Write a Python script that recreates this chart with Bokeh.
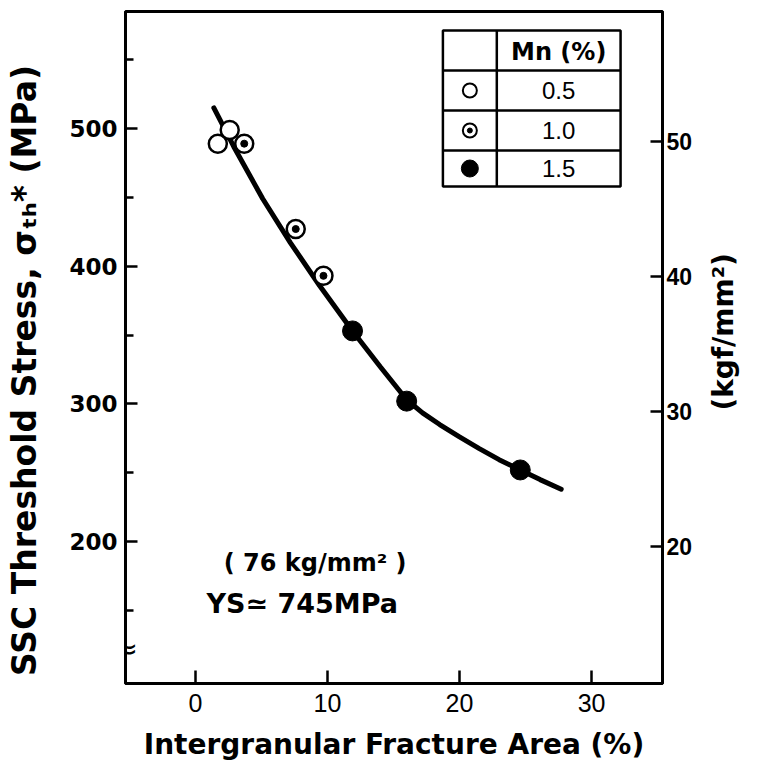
from bokeh.plotting import figure
from bokeh.models import Label, LinearAxis, Range1d, FixedTicker
from bokeh.embed import file_html
from bokeh.resources import INLINE
import math

# ---------------- data ----------------
mn05_x = [1.7, 2.6]
mn05_y = [489, 499]
mn10_x = [3.7, 7.6, 9.7]
mn10_y = [489, 427, 393]
mn15_x = [11.9, 16.0, 24.6]
mn15_y = [353, 302, 252]

curve_x = [1.4, 2.9, 5.1, 7.2, 9.4, 11.9, 14.0, 16.0, 17.2, 18.5, 20.0, 21.5, 23.0, 24.6, 26.1, 27.7]
curve_y = [515, 487, 449, 417, 386, 353, 327, 303, 293.5, 285, 276, 267.5, 259.5, 252, 245, 238]

x_ticks = [0, 10, 20, 30]
y_ticks = [200, 300, 400, 500]
y_minor = [150, 250, 350, 450, 550]
kgf_ticks = [20, 30, 40, 50]
MPA_PER_KGF = 9.80665

legend_rows = ["0.5", "1.0", "1.5"]

# ---------------- layout ----------------
W, H = 759, 783
FRAME_L, FRAME_R, FRAME_T, FRAME_B = 125, 663, 11, 683
X_START, X_END = -5.29, 35.37
Y_START, Y_END = 96.9, 585.0


def dx(px):
    return X_START + (px - FRAME_L) / (FRAME_R - FRAME_L) * (X_END - X_START)


def dy(py):
    return Y_END - (py - FRAME_T) / (FRAME_B - FRAME_T) * (Y_END - Y_START)


p = figure(width=W, height=H, output_backend="svg", toolbar_location=None,
           x_range=Range1d(X_START, X_END), y_range=Range1d(Y_START, Y_END),
           min_border_left=FRAME_L, min_border_right=W - FRAME_R,
           min_border_top=FRAME_T, min_border_bottom=H - FRAME_B)
p.background_fill_color = "white"
p.border_fill_color = "white"
p.grid.visible = False
p.outline_line_color = "black"
p.outline_line_width = 3

p.extra_y_ranges = {"kgf": Range1d(Y_START / MPA_PER_KGF, Y_END / MPA_PER_KGF)}

# bottom axis
xa = p.xaxis[0]
xa.ticker = FixedTicker(ticks=x_ticks)
xa.major_tick_in = 13
xa.major_tick_out = 0
xa.minor_tick_line_color = None
xa.axis_line_width = 3
xa.major_tick_line_width = 2.5
xa.major_label_standoff = 10
xa.major_label_text_font = "Liberation Sans"
xa.major_label_text_font_size = "25px"
xa.major_label_text_color = "black"
xa.axis_label = "Intergranular Fracture Area (%)"
xa.axis_label_text_font = "DejaVu Sans"
xa.axis_label_text_font_style = "bold"
xa.axis_label_text_font_size = "28px"
xa.axis_label_text_color = "black"
xa.axis_label_standoff = 13

# left axis
ya = p.yaxis[0]
ya.ticker = FixedTicker(ticks=y_ticks, minor_ticks=y_minor)
ya.major_tick_in = 12
ya.major_tick_out = 0
ya.minor_tick_in = 8
ya.minor_tick_out = 0
ya.axis_line_width = 3
ya.major_tick_line_width = 2.5
ya.minor_tick_line_width = 2.5
ya.major_label_standoff = 8
ya.major_label_text_font = "DejaVu Sans"
ya.major_label_text_font_style = "bold"
ya.major_label_text_font_size = "23px"
ya.major_label_text_color = "black"
ya.axis_label = "SSC Threshold Stress, σₜₕ* (MPa)" + "\u00a0" * 4
ya.axis_label_text_font = "DejaVu Sans"
ya.axis_label_text_font_style = "bold"
ya.axis_label_text_font_size = "33px"
ya.axis_label_text_color = "black"
ya.axis_label_standoff = 22

# right axis (kgf/mm2)
ra = LinearAxis(y_range_name="kgf", ticker=FixedTicker(ticks=kgf_ticks))
ra.major_tick_in = 12
ra.major_tick_out = 0
ra.minor_tick_line_color = None
ra.axis_line_width = 3
ra.major_tick_line_width = 2.5
ra.major_label_standoff = 4
ra.major_label_text_font = "Liberation Sans"
ra.major_label_text_font_style = "bold"
ra.major_label_text_font_size = "23px"
ra.major_label_text_color = "black"
right_title = "(kgf/mm²)"
try:
    ra.axis_label_orientation = math.pi / 2
    ra.axis_label_align = "start"
    right_title = "\u00a0" * 28 + right_title
except Exception:
    pass
ra.axis_label = right_title
ra.axis_label_text_font = "DejaVu Sans"
ra.axis_label_text_font_style = "bold"
ra.axis_label_text_font_size = "28px"
ra.axis_label_text_color = "black"
ra.axis_label_standoff = 28
p.add_layout(ra, "right")

# curve and points
p.line(curve_x, curve_y, line_width=5, line_color="black", line_cap="round")
p.scatter(mn05_x, mn05_y, size=18, marker="circle", fill_color="white",
          line_color="black", line_width=2.5)
p.scatter(mn10_x, mn10_y, size=18, marker="circle", fill_color="white",
          line_color="black", line_width=2.5)
p.scatter(mn10_x, mn10_y, size=7, marker="circle", fill_color="black",
          line_color="black")
p.scatter(mn15_x, mn15_y, size=20, marker="circle", fill_color="black",
          line_color="black")

# legend table
TL, TC, TR = 443, 497, 621
TT, TB = 30, 186
ROWS = [70, 110, 150]
p.quad(left=[dx(TL)], right=[dx(TR)], top=[dy(TT)], bottom=[dy(TB)],
       fill_color="white", line_color="black", line_width=2.5)
p.segment(x0=[dx(TC)], y0=[dy(TT)], x1=[dx(TC)], y1=[dy(TB)],
          line_color="black", line_width=2.5)
p.segment(x0=[dx(TL)] * 3, y0=[dy(r) for r in ROWS], x1=[dx(TR)] * 3,
          y1=[dy(r) for r in ROWS], line_color="black", line_width=2.5)
mk_x = dx(470)
row_c = [90, 130, 168]
p.scatter([mk_x], [dy(row_c[0])], size=14, marker="circle", fill_color="white",
          line_color="black", line_width=2)
p.scatter([mk_x], [dy(row_c[1])], size=14, marker="circle", fill_color="white",
          line_color="black", line_width=2)
p.scatter([mk_x], [dy(row_c[1])], size=5, marker="circle", fill_color="black",
          line_color="black")
p.scatter([mk_x], [dy(row_c[2])], size=17, marker="circle", fill_color="black",
          line_color="black")


def lab(text, px, py, size, font="DejaVu Sans", style="bold", align="center",
        baseline="middle", angle=0.0):
    p.add_layout(Label(x=dx(px), y=dy(py), text=text, text_font=font,
                       text_font_size=f"{size}px", text_font_style=style,
                       text_align=align, text_baseline=baseline, angle=angle,
                       text_color="black"))


lab("Mn (%)", 559, 51, 24)
for t, yc in zip(legend_rows, row_c):
    lab(t, 559, yc, 24, font="Liberation Sans", style="normal")

# in-plot annotations
lab("( 76 kg/mm² )", 315, 562, 24)
lab("YS≃ 745MPa", 302, 603, 27)

# axis break mark (right half shows inside the frame)
lab("≈", 125, 648, 30, style="normal")

open("out.html", "w").write(file_html(p, INLINE))
